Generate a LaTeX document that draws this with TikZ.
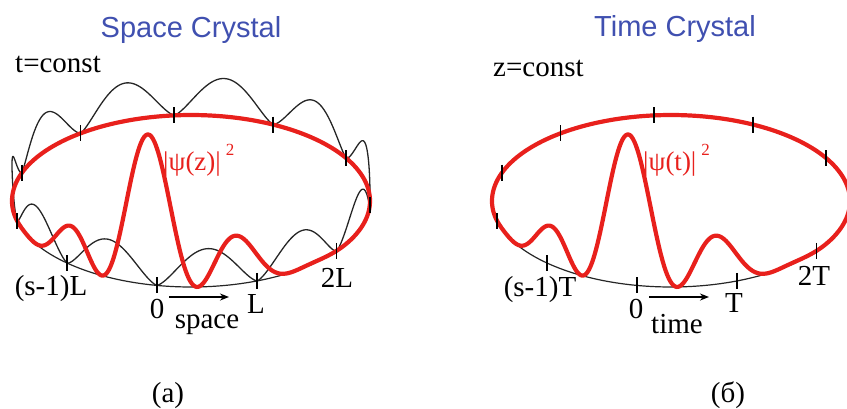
\documentclass[tikz,border=0pt]{standalone}
\usepackage{fontspec}
\setmainfont{Liberation Serif}
\newfontfamily\titlefont{Liberation Sans}
\usetikzlibrary{arrows.meta}
\definecolor{wavered}{RGB}{232,32,28}
\definecolor{titleblue}{RGB}{64,80,176}
\begin{document}
\begin{tikzpicture}[x=1pt,y=-1pt,
  declare function={
    ex(\t)=191+179*cos(\t);
    ey(\t)=201-86*sin(\t);
    bw(\t)=38*abs(sin(5.5*(\t-259)))^1.4;
    rw(\t)=150*exp(-(\t-256)*(\t-256)/729)*cos(5.625*(\t-256))*cos(5.625*(\t-256))*(1+0.004*(\t-256));
  },
  baseell/.style={draw=black!85, line width=1.2pt},
  wave/.style={draw=black!85, line width=1.3pt, line join=round},
  redline/.style={draw=wavered, line width=4.2pt, line join=round},
  ticker/.style={draw=black, line width=1.7pt},
  arr/.style={draw=black, line width=1.5pt, -{Stealth[length=9pt,width=7pt]}},
  lbl/.style={font=\fontsize{29}{32}\selectfont, anchor=base, inner sep=0pt},
  psi/.style={text=wavered, font=\fontsize{27}{30}\selectfont, anchor=base west, inner sep=0pt},
  ttl/.style={text=titleblue, font=\titlefont\fontsize{29}{32}\selectfont, anchor=base, inner sep=0pt},
  subcap/.style={font=\fontsize{29}{32}\selectfont, anchor=base, inner sep=0pt}
]
\path[use as bounding box, clip] (0,0) rectangle (847,408);

% ---------------- left panel: space crystal ----------------
\draw[baseell] plot[domain=0:360, samples=200] ({ex(\x)},{ey(\x)}) -- cycle;
\draw[wave] plot[domain=0:360, samples=500] ({ex(\x)},{ey(\x)-bw(\x)}) -- cycle;
\draw[redline] plot[domain=-25:175, samples=150] ({ex(\x)},{ey(\x)})
  -- plot[domain=175:335, samples=320] ({ex(\x)},{ey(\x)-rw(\x)}) -- cycle;
\foreach \k in {0,...,10}{
  \pgfmathsetmacro\tt{259+32.7273*\k}
  \coordinate (tA\k) at ({ex(\tt)},{ey(\tt)});
  \draw[ticker] ([yshift=8pt]tA\k) -- ([yshift=-8pt]tA\k);
}
\node[ttl] (titleA) at (191,37) {Space Crystal};
\node[lbl, anchor=base west] (constA) at (15,72) {t=const};
\node[psi] (psiA) at (163,170) {|ψ(z)|\kern5pt\raisebox{15pt}{\fontsize{17}{17}\selectfont 2}};
\node[lbl] (lsm1) at (51,295) {(s-1)L};
\node[lbl] (l0) at (157,318) {0};
\node[lbl] (l1) at (256,313) {L};
\node[lbl] (l2) at (337,287) {2L};
\node[lbl] (lsp) at (207,328) {space};
\coordinate (arA0) at (169,297);
\coordinate (arA1) at (229,297);
\draw[arr] (arA0) -- (arA1);
\node[subcap] (capA) at (168,402) {(a)};

% ---------------- right panel: time crystal ----------------
\begin{scope}[xshift=480pt]
\draw[baseell] plot[domain=0:360, samples=200] ({ex(\x)},{ey(\x)}) -- cycle;
\draw[redline] plot[domain=-25:175, samples=150] ({ex(\x)},{ey(\x)})
  -- plot[domain=175:335, samples=320] ({ex(\x)},{ey(\x)-rw(\x)}) -- cycle;
\foreach \k in {0,...,10}{
  \pgfmathsetmacro\tt{259+32.7273*\k}
  \coordinate (tB\k) at ({ex(\tt)},{ey(\tt)});
  \draw[ticker] ([yshift=8pt]tB\k) -- ([yshift=-8pt]tB\k);
}
\node[ttl] (titleB) at (195,36) {Time Crystal};
\node[lbl, anchor=base west] (constB) at (13,76) {z=const};
\node[psi] (psiB) at (163,170) {|ψ(t)|\kern5pt\raisebox{15pt}{\fontsize{17}{17}\selectfont 2}};
\node[lbl] (tsm1) at (60,296) {(s-1)T};
\node[lbl] (t0) at (156,318) {0};
\node[lbl] (t1) at (254,312) {T};
\node[lbl] (t2) at (334,285) {2T};
\node[lbl] (tsp) at (197,333) {time};
\coordinate (arB0) at (169,297);
\coordinate (arB1) at (229,297);
\draw[arr] (arB0) -- (arB1);
\node[subcap] (capB) at (248,402) {(б)};
\end{scope}
\end{tikzpicture}
\end{document}
